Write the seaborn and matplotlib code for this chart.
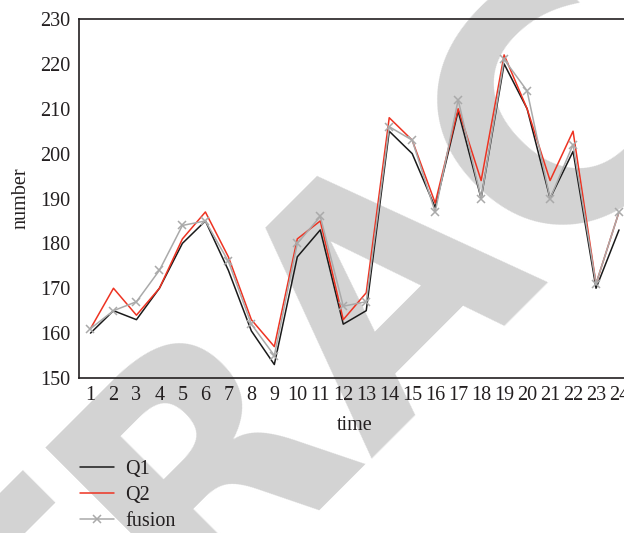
import matplotlib
matplotlib.use('Agg')
import matplotlib.pyplot as plt
import seaborn as sns
import pandas as pd

# Values
time = list(range(1, 25))
q1 = [160, 165, 163, 170, 180, 185, 174, 160.5, 153, 177, 183, 162,
      165, 205, 200, 188, 209.5, 190, 220, 210, 190, 200.5, 170, 183]
q2 = [161, 170, 164, 170, 181, 187, 177, 163, 157, 181, 185, 163,
      169, 208, 203, 189, 210, 194, 222, 210, 194, 205, 171, 187]
fusion = [161, 165, 167, 174, 184, 185, 176, 162, 155, 180, 186, 166,
          167, 206, 203, 187, 212, 190, 221, 214, 190, 202, 171, 187]

y_ticks = [150, 160, 170, 180, 190, 200, 210, 220, 230]

df = pd.DataFrame({'time': time, 'Q1': q1, 'Q2': q2, 'fusion': fusion})

sns.set_style("white")
plt.rcParams['font.family'] = ['Liberation Serif', 'DejaVu Serif']
plt.rcParams['font.size'] = 14.5

fig = plt.figure(figsize=(6.24, 5.33), dpi=100)
ax = fig.add_axes([79 / 624, 155 / 533, 551.5 / 624, 359 / 533])
ax.patch.set_alpha(0)

# watermark behind the plot
ax.text(390 / 624, 1 - 282 / 533, 'RETRACTED', transform=fig.transFigure,
        fontsize=235, fontweight='bold', family='DejaVu Sans', color='#d3d3d3',
        rotation=45, rotation_mode='anchor', ha='center', va='center',
        zorder=0, clip_on=False)

sns.lineplot(data=df, x='time', y='Q1', ax=ax, color='#1a1a1a', linewidth=1.1,
             label='Q1', zorder=3)
sns.lineplot(data=df, x='time', y='Q2', ax=ax, color='#ee3322', linewidth=1.1,
             label='Q2', zorder=4)
sns.lineplot(data=df, x='time', y='fusion', ax=ax, color='#aaaaaa', linewidth=1.1,
             marker='x', markersize=6, markeredgewidth=1.1,
             markeredgecolor='#aaaaaa', label='fusion', zorder=5)

ax.set_xlim(0.5, 24.5)
ax.set_ylim(150, 230)
ax.set_xticks(time)
ax.set_yticks(y_ticks)
ax.tick_params(axis='both', length=0, labelsize=14.5, colors='#231f20')
ax.tick_params(axis='x', pad=6)
ax.tick_params(axis='y', pad=6)
for side in ['left', 'top', 'bottom', 'right']:
    ax.spines[side].set_color('#231f20')
    ax.spines[side].set_linewidth(1.2)

ax.set_xlabel('time', fontsize=14.5, color='#231f20', labelpad=8)
ax.set_ylabel('number', fontsize=14.5, color='#231f20', labelpad=7)

handles, labels = ax.get_legend_handles_labels()
ax.get_legend().remove()
fig.legend(handles, labels, loc='upper left',
           bbox_to_anchor=(80 / 624, 1 - 460 / 533), frameon=False,
           borderpad=0, borderaxespad=0, handlelength=1.7,
           handletextpad=0.55, labelspacing=0.33, fontsize=14.5,
           labelcolor='#231f20')

plt.savefig('out.png', dpi=100)
plt.close()
